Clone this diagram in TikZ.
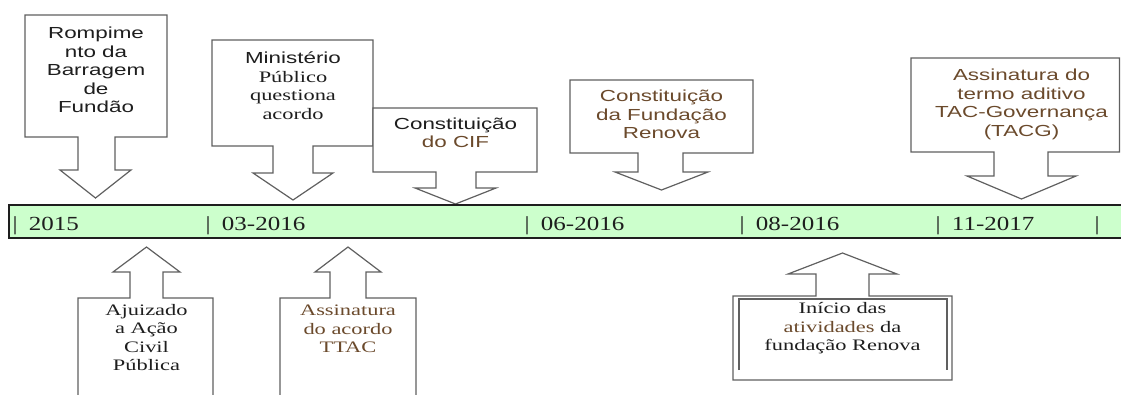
\documentclass[tikz,border=0pt]{standalone}
\usepackage{fontspec}
\setmainfont{Liberation Serif}
\setsansfont{Liberation Sans}
\usetikzlibrary{positioning}

\definecolor{marrom}{HTML}{6B4A2C}
\definecolor{cinza}{HTML}{606060}
\definecolor{preto}{HTML}{1E1E1E}
\definecolor{verde}{HTML}{CCFFCC}

% stretched multi-line text, as in the scanned timeline
\newcommand{\largo}[2][1.4]{\scalebox{#1}[1]{\begin{tabular}{@{}c@{}}#2\end{tabular}}}
\newcommand{\marca}[1]{\scalebox{1.25}[1]{|\hspace{0.45em}#1}}

\begin{document}
\begin{tikzpicture}[
            x = 1pt, y = -1pt, % pixel grid, y going down
            callout/.style = {draw = cinza, line width = 1.2pt, fill = white},
            texto/.style = {inner sep = 0pt, text = preto, font = \fontsize{16}{18.5}\selectfont\rmfamily},
            textosf/.style = {texto, font = \fontsize{16}{18.5}\selectfont\sffamily},
            data/.style = {inner sep = 0pt, anchor = base west, text = preto, font = \fontsize{20}{24}\selectfont\rmfamily}
        ]

        \clip (0,0) rectangle (1121,394);

	% callouts: left/right, far side, arrow side, shaft, shaft end, head, tip
	\foreach \l/\r/\t/\b/\sl/\sr/\sb/\hl/\hr/\ty in {
	    25/167/15/137/78/115/170/60/131/198,
	    212/373/40/146/273/313/173/253/333/200,
	    373/537/108/172/436/476/188/415/496/204,
	    570/753/80/153/638/683/172/615/708/190,
	    911/1119.5/58/152/994/1048/176/967/1076/199,
	    78/213/400/298/130/163/272/113/180/247,
	    280/416/400/298/330/366/272/315/381/247,
	    733/952/380/296/816/869/274/788/897/253}
	    \draw[callout] (\l,\t) -- (\r,\t) -- (\r,\b) -- (\sr,\b) -- (\sr,\sb) -- (\hr,\sb)
	        -- ({(\hl+\hr)/2},\ty) -- (\hl,\sb) -- (\sl,\sb) -- (\sl,\b) -- (\l,\b) -- cycle;
	\draw[cinza, line width = 1.2pt] (739,370) -- (739,299) -- (947,299) -- (947,370);

	% timeline
	\draw[draw = preto, line width = 1.1pt, fill = verde] (9,205) rectangle (1135,238);
	\node[data] (d2015) at (12.5,230) {\marca{2015}};
	\node[data] (d032016) at (205.5,230) {\marca{03-2016}};
	\node[data] (d062016) at (524.5,230) {\marca{06-2016}};
	\node[data] (d082016) at (739.5,230) {\marca{08-2016}};
	\node[data] (d112017) at (935.5,230) {\marca{11-2017}};
	\node[data] (dfim) at (1094.5,230) {\scalebox{1.25}[1]{|}};

	% events above
	\node[textosf] (rompimento) at (96,72)
	    {\largo{Rompime\\nto da\\Barragem\\de\\Fundão}};
	\node[texto] (ministerio) at (293,88)
	    {\largo{\sffamily Ministério\\\rmfamily Público\\\rmfamily questiona\\\rmfamily acordo}};
	\node[textosf] (cif) at (455.5,135)
	    {\largo{Constituição\\\textcolor{marrom}{do CIF}}};
	\node[textosf, text = marrom] (renova) at (661.5,116.5)
	    {\largo{Constituição\\da Fundação\\Renova}};
	\node[textosf, text = marrom] (tacg) at (1021.5,105)
	    {\largo{Assinatura do\\termo aditivo\\TAC-Governança\\(TACG)}};

	% events below
	\node[texto] (ajuizado) at (146.5,339.5)
	    {\largo{Ajuizado\\a Ação\\Civil\\Pública}};
	\node[texto, text = marrom] (ttac) at (348,330.5)
	    {\largo{Assinatura\\do acordo\\TTAC}};
	\node[texto] (inicio) at (842.5,328.5)
	    {\largo{Início das\\\textcolor{marrom}{atividades} da\\fundação Renova}};

    \end{tikzpicture}
\end{document}
